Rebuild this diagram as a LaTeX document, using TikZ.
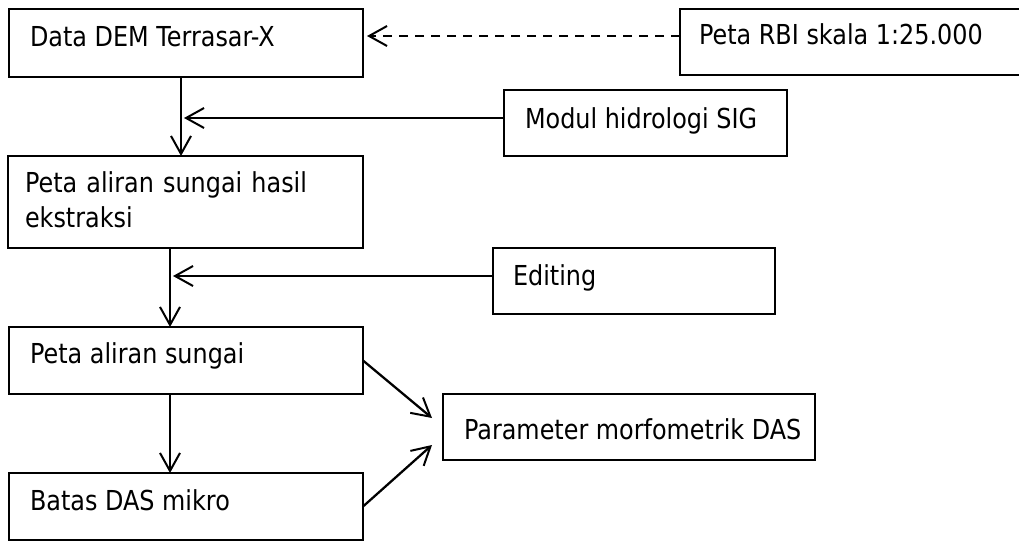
\documentclass[tikz,border=0pt]{standalone}
\usepackage{fontspec}
\setmainfont{DejaVu Sans}[FakeStretch=0.87]
\usetikzlibrary{arrows.meta}

\begin{document}
\begin{tikzpicture}[x=0.75pt,y=-0.75pt,
  flowbox/.style={draw, line width=1pt, rectangle, inner sep=0pt, outer sep=0pt, anchor=north west},
  txt/.style={anchor=base west, inner sep=0pt, outer sep=0pt,
    font=\fontsize{20.6pt}{26.25pt}\selectfont},
  arr/.style={line width=1.7pt, -{Straight Barb[length=13.5pt,width=15pt,line width=1.5pt]}},
  dashline/.style={dash pattern=on 6.75pt off 5.25pt}
]
\useasboundingbox (0,0) rectangle (1019,542);

% boxes
\node[flowbox, minimum width=265.5pt, minimum height=51pt]   (dem)    at (9,9)     {};
\node[flowbox, minimum width=270pt,   minimum height=49.5pt] (rbi)    at (680,9)   {};
\node[flowbox, minimum width=212.25pt,minimum height=49.5pt] (modul)  at (504,90)  {};
\node[flowbox, minimum width=266.25pt,minimum height=69pt]   (ekstr)  at (8,156)   {};
\node[flowbox, minimum width=211.5pt, minimum height=49.5pt] (edit)   at (493,248) {};
\node[flowbox, minimum width=265.5pt, minimum height=50.25pt](sungai) at (9,327)   {};
\node[flowbox, minimum width=265.5pt, minimum height=50.25pt](batas)  at (9,473)   {};
\node[flowbox, minimum width=279pt,   minimum height=49.5pt] (param)  at (443,394) {};

% labels
\node[txt] (demt)    at (30,47)   {Data DEM Terrasar-X};
\node[txt] (rbit)    at (699,45)  {Peta RBI skala 1:25.000};
\node[txt] (modult)  at (525,128) {Modul hidrologi SIG};
\node[txt, text width=240pt] (ekstrt) at (25,192) {Peta aliran sungai hasil\\ekstraksi};
\node[txt] (editt)   at (513,285) {Editing};
\node[txt] (sungait) at (30,363)  {Peta aliran sungai};
\node[txt] (batast)  at (30,510)  {Batas DAS mikro};
\node[txt] (paramt)  at (464,439) {Parameter morfometrik DAS};

% junction points of the connectors
\coordinate (col1) at (181,0);
\coordinate (col2) at (170,0);
\coordinate (j0) at (367,36);
\coordinate (j1) at (184,118);
\coordinate (j2) at (173,276);
\coordinate (p1) at (432,418);
\coordinate (p2) at (432,445);

% connectors
\draw[arr, dashline] (j0 -| rbi.west) -- (j0);
\draw[arr] (col1 |- dem.south) -- (col1 |- ekstr.north);
\draw[arr] (j1 -| modul.west) -- (j1);
\draw[arr] (col2 |- ekstr.south) -- (col2 |- sungai.north);
\draw[arr] (j2 -| edit.west) -- (j2);
\draw[arr] (col2 |- sungai.south) -- (col2 |- batas.north);
\draw[arr] (sungai.east) -- (p1);
\draw[arr] (batas.east) -- (p2);
\end{tikzpicture}
\end{document}
